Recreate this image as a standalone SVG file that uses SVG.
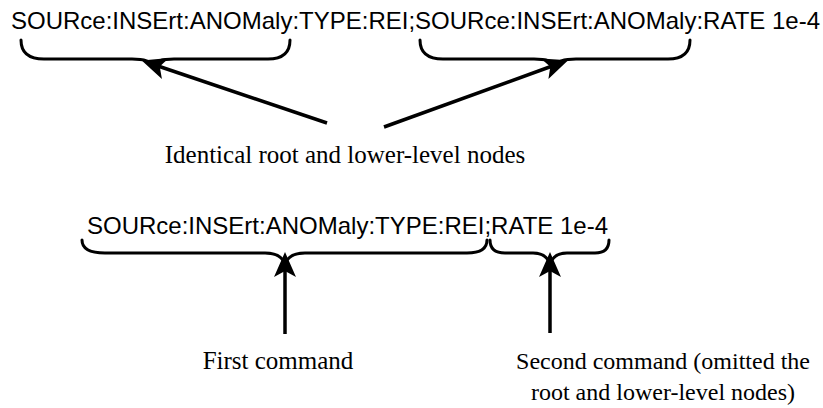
<svg xmlns="http://www.w3.org/2000/svg" width="823" height="408" viewBox="0 0 823 408">
<style>
.cmd{font-family:"Liberation Sans",Arial,sans-serif;font-size:24px;fill:#000}
.lbl{font-family:"Liberation Serif","Times New Roman",serif;font-size:25px;fill:#000;text-anchor:middle}
.lbl2{font-family:"Liberation Serif","Times New Roman",serif;font-size:24px;fill:#000;text-anchor:middle}
.br{fill:none;stroke:#000;stroke-width:3;stroke-linecap:round;stroke-linejoin:round}
.ar{fill:none;stroke:#000;stroke-width:3.5}
</style>
<defs>
<marker id="ah" markerUnits="userSpaceOnUse" markerWidth="34" markerHeight="28" viewBox="-28 -14 34 28" refX="-14" refY="0" orient="auto">
<path d="M0,0 L-25,-11 L-19,0 L-25,11 Z" fill="#000"/>
</marker>
</defs>
<g id="cmd-top">
<text class="cmd" x="11" y="29">SOURce:INSErt:ANOMaly:TYPE:REI;SOURce:INSErt:ANOMaly:RATE 1e-4</text>
</g>
<g id="brace-top-1">
<path class="br" d="M21,40 Q21,59 44,59 L132,59 Q150,59 153,66 Q156,59 174,59 L268,59 Q290,59 290,40"/>
</g>
<g id="brace-top-2">
<path class="br" d="M420,40 Q420,59 443,59 L534,59 Q552,59 555,66 Q558,59 576,59 L668,59 Q690,59 690,40"/>
</g>
<g id="label-identical">
<text class="lbl" x="345" y="163">Identical root and lower-level nodes</text>
</g>
<g id="cmd-bottom">
<text class="cmd" x="87" y="234">SOURce:INSErt:ANOMaly:TYPE:REI;RATE 1e-4</text>
</g>
<g id="brace-bottom-1">
<path class="br" d="M82,240 Q82,253 105,253 L265,253 Q282,253 285,265 Q288,253 305,253 L467,253 Q487,253 487,240"/>
</g>
<g id="brace-bottom-2">
<path class="br" d="M490,240 Q490,253 505,253 L533,253 Q547,253 550,265 Q553,253 567,253 L595,253 Q609,253 609,240"/>
</g>
<g id="label-first">
<text class="lbl" x="278" y="369">First command</text>
</g>
<g id="label-second">
<text class="lbl2" x="663" y="369">Second command (omitted the</text>
<text class="lbl2" x="663" y="400">root and lower-level nodes)</text>
</g>
<g id="connectors">
<line class="ar" x1="327" y1="123" x2="155" y2="65" marker-end="url(#ah)"/>
<line class="ar" x1="384" y1="127" x2="555" y2="65" marker-end="url(#ah)"/>
<line class="ar" x1="285" y1="334" x2="285" y2="266" marker-end="url(#ah)"/>
<line class="ar" x1="550" y1="333" x2="550" y2="266" marker-end="url(#ah)"/>
</g>
</svg>
